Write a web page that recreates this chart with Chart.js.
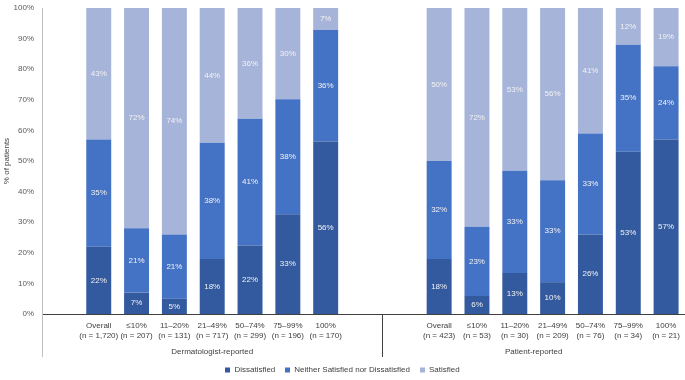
<!DOCTYPE html>
<html lang="en">
<head>
  <meta charset="UTF-8" />
  <title>Satisfaction by extent</title>
  <script src="https://cdn.jsdelivr.net/npm/chart.js"></script>
  <style>
    html, body { margin: 0; padding: 0; background: #fff; }
  </style>
</head>
<body>
  <canvas id="satChart" width="685" height="380"></canvas>

  <script>
    // group names and category labels
    const groups = ["Dermatologist-reported", "Patient-reported"];
    const dermLabels = [["Overall", "(n = 1,720)"], ["≤10%", "(n = 207)"], ["11–20%", "(n = 131)"], ["21–49%", "(n = 717)"], ["50–74%", "(n = 299)"], ["75–99%", "(n = 196)"], ["100%", "(n = 170)"]];
    const patLabels = [["Overall", "(n = 423)"], ["≤10%", "(n = 53)"], ["11–20%", "(n = 30)"], ["21–49%", "(n = 209)"], ["50–74%", "(n = 76)"], ["75–99%", "(n = 34)"], ["100%", "(n = 21)"]];

    // % of patients (labels are rounded)
    const dermDissatisfied = [22, 7, 5, 18, 22.4, 32.6, 56.4];
    const dermNeither      = [35, 21, 21, 38, 41.4, 37.6, 36.4];
    const dermSatisfied    = [43, 72, 74, 44, 36.2, 29.8, 7.2];
    const patDissatisfied  = [18, 5.9, 13.4, 10.4, 26, 53, 57];
    const patNeither       = [32, 22.6, 33.4, 33.3, 33, 35, 24];
    const patSatisfied     = [50, 71.5, 53.2, 56.3, 41, 12, 19];

    const yTicks = [0, 10, 20, 30, 40, 50, 60, 70, 80, 90, 100];

    const font = "'Liberation Sans', Arial, sans-serif";

    // one empty slot before each group, one after the first
    const combine = (a, b) => [null, ...a, null, null, ...b];
    const labels = combine(dermLabels, patLabels).map(l => l === null ? "" : l);

    const datasets = [
      { label: "Dissatisfied", data: combine(dermDissatisfied, patDissatisfied), backgroundColor: "#335a9f" },
      { label: "Neither Satisfied nor Dissatisfied", data: combine(dermNeither, patNeither), backgroundColor: "#4472c4" },
      { label: "Satisfied", data: combine(dermSatisfied, patSatisfied), backgroundColor: "#a7b4d9" }
    ];

    // percent labels in the middle of each segment
    const segLabels = {
      id: "segLabels",
      afterDatasetsDraw(chart) {
        const ctx = chart.ctx;
        ctx.save();
        ctx.font = "8px " + font;
        ctx.fillStyle = "#f2f2f2";
        ctx.textAlign = "center";
        ctx.textBaseline = "middle";
        chart.data.datasets.forEach((ds, i) => {
          chart.getDatasetMeta(i).data.forEach((bar, j) => {
            const v = ds.data[j];
            if (v === null) return;
            ctx.fillText(Math.round(v) + "%", bar.x, (bar.y + bar.base) / 2);
          });
        });
        ctx.restore();
      }
    };

    // group labels, separators and legend under the axis
    const groupAxis = {
      id: "groupAxis",
      afterDraw(chart) {
        const ctx = chart.ctx;
        const x = chart.scales.x;
        const area = chart.chartArea;
        const slot = x.getPixelForValue(1) - x.getPixelForValue(0);
        const sep = x.getPixelForValue(8) + slot / 2;
        const lineBottom = area.bottom + 43;
        ctx.save();
        ctx.lineWidth = 1;
        ctx.strokeStyle = "#bfbfbf";
        ctx.beginPath();
        ctx.moveTo(area.left + 0.5, area.bottom);
        ctx.lineTo(area.left + 0.5, lineBottom);
        ctx.stroke();
        ctx.strokeStyle = "#404040";
        ctx.beginPath();
        ctx.moveTo(Math.round(sep) + 0.5, area.bottom);
        ctx.lineTo(Math.round(sep) + 0.5, lineBottom);
        ctx.stroke();

        ctx.font = "8px " + font;
        ctx.fillStyle = "#404040";
        ctx.textAlign = "center";
        ctx.textBaseline = "middle";
        ctx.fillText(groups[0], (area.left + sep) / 2, area.bottom + 38);
        ctx.fillText(groups[1], (sep + area.right) / 2, area.bottom + 38);

        // legend
        const box = 5, gap = 4, spacing = 10, ly = 370;
        ctx.textAlign = "left";
        const widths = chart.data.datasets.map(ds => box + gap + ctx.measureText(ds.label).width);
        const total = widths.reduce((a, b) => a + b, 0) + spacing * (widths.length - 1);
        let lx = chart.width / 2 - total / 2;
        chart.data.datasets.forEach((ds, i) => {
          ctx.fillStyle = ds.backgroundColor;
          ctx.fillRect(Math.round(lx), ly - 2.5, box, box);
          ctx.fillStyle = "#404040";
          ctx.fillText(ds.label, lx + box + gap, ly);
          lx += widths[i] + spacing;
        });
        ctx.restore();
      }
    };

    new Chart(document.getElementById("satChart"), {
      type: "bar",
      data: { labels: labels, datasets: datasets },
      options: {
        responsive: false,
        animation: false,
        barPercentage: 0.66,
        categoryPercentage: 1,
        layout: { padding: { top: 8, left: 0, right: 0, bottom: 0 } },
        plugins: { legend: { display: false }, tooltip: { enabled: false } },
        scales: {
          x: {
            stacked: true,
            grid: { display: false, drawTicks: false },
            border: { color: "#404040" },
            ticks: { autoSkip: false, maxRotation: 0, padding: 7, color: "#404040", font: { family: font, size: 8, lineHeight: 1.25 } },
            afterFit: s => { s.height = 66; s.paddingLeft = 0; s.paddingRight = 0; }
          },
          y: {
            stacked: true,
            min: 0,
            max: 100,
            grid: { display: false, drawTicks: false },
            border: { color: "#bfbfbf" },
            afterBuildTicks: s => { s.ticks = yTicks.map(v => ({ value: v })); },
            ticks: { padding: 8, color: "#595959", font: { family: font, size: 8 }, callback: v => v + "%" },
            title: { display: true, text: "% of patients", color: "#404040", padding: { top: 2, bottom: 0 }, font: { family: font, size: 8 } },
            afterFit: s => { s.width = 42; s.paddingTop = 0; s.paddingBottom = 0; }
          }
        }
      },
      plugins: [segLabels, groupAxis]
    });
  </script>
</body>
</html>
